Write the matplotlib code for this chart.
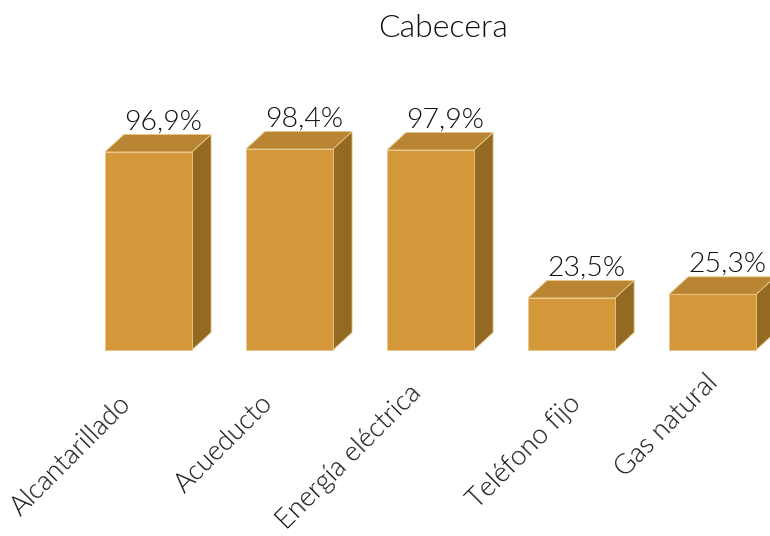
import matplotlib.pyplot as plt
import numpy as np
from matplotlib.patches import Polygon

plt.rcParams['font.family'] = ['Lato', 'DejaVu Sans']
plt.rcParams['font.weight'] = 300

categorias = ['Alcantarillado', 'Acueducto', 'Energía eléctrica', 'Teléfono fijo', 'Gas natural']
valores = [96.9, 98.4, 97.9, 23.5, 25.3]
etiquetas = ['96,9%', '98,4%', '97,9%', '23,5%', '25,3%']

col_front = '#D4973A'
col_top = '#BA8532'
col_side = '#946A22'
borde = '#E8C88A'

# where each rotated category label ends (layout nudges)
lab_dx = [-0.216, -0.209, -0.16, -0.025, -0.053]
lab_y = [-23.3, -22.8, -17.7, -23.3, -12.7]

fig = plt.figure(figsize=(7.7, 5.36), dpi=100)
ax = fig.add_axes([0, 0, 1, 1])
ax.set_xlim(-1.053, 4.407)
ax.set_ylim(-96.2, 173.3)
ax.axis('off')

x = np.arange(len(categorias))
w = 0.617
dx = 0.135
dy = 8.8
base = -2.66  # floor of the 3d bars

alturas = np.array(valores) - base
ax.bar(x, alturas, bottom=base, width=w, color=col_front, edgecolor=borde, linewidth=0.6, zorder=2)
for xi, v, lab in zip(x, valores, etiquetas):
    l, r = xi - w / 2, xi + w / 2
    top = Polygon([(l, v), (r, v), (r + dx, v + dy), (l + dx, v + dy)], closed=True,
                  facecolor=col_top, edgecolor=borde, linewidth=0.6, zorder=2)
    side = Polygon([(r, base), (r + dx, base + dy), (r + dx, v + dy), (r, v)], closed=True,
                   facecolor=col_side, edgecolor=borde, linewidth=0.6, zorder=1)
    ax.add_patch(side)
    ax.add_patch(top)
    ax.text(xi + 0.105, v + dy + 2.5, lab, ha='center', va='baseline', fontsize=20.5, color='#111111')

for xi, cat, ddx, yy in zip(x, categorias, lab_dx, lab_y):
    ax.text(xi + ddx, yy, cat, rotation=45, ha='right', va='top', rotation_mode='anchor',
            fontsize=19.5, color='#111111')

fig.text(443 / 770, 1 - 37 / 536, 'Cabecera', ha='center', va='baseline', fontsize=23, color='#111111')

fig.savefig('out.png', dpi=100)
